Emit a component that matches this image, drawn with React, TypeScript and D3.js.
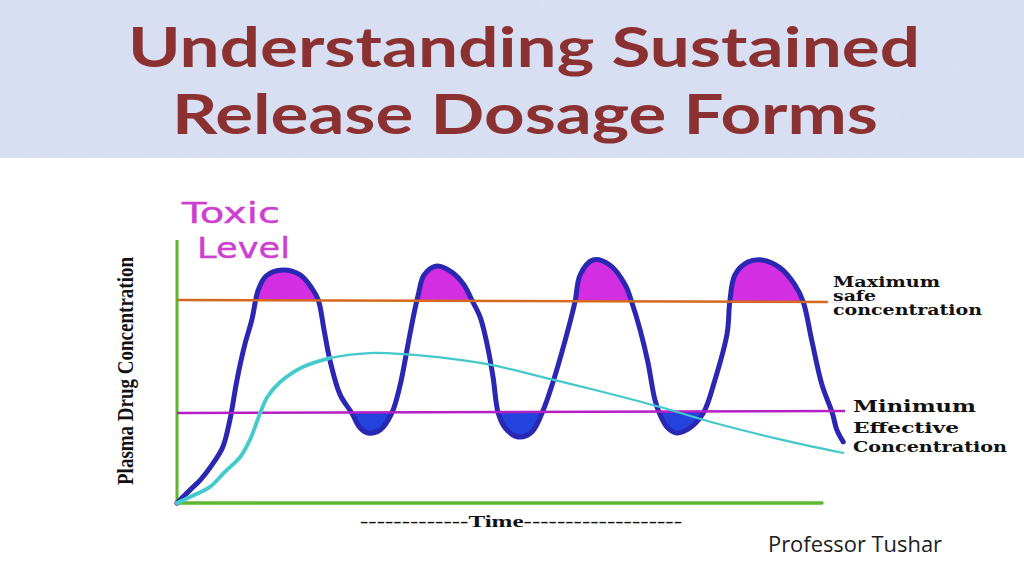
import React from "react";
import * as d3 from "d3";

// ---- data (arbitrary units: time 0..100, concentration 0..100) ----
const blueTime = [0, 2.0, 3.6, 5.4, 7.1, 8.2, 9.3, 10.5, 11.6, 12.6, 13.8, 16.4, 19.1, 20.9, 21.9, 22.8, 23.7, 25.3, 27.1, 28.4, 29.6, 31.5, 33.3, 34.6, 35.8, 36.7, 37.4, 38.3, 40.3, 42.6, 44.5, 45.7, 47.0, 48.1, 49.0, 49.8, 50.9, 52.9, 55.0, 56.6, 58.3, 60.2, 61.7, 62.5, 64.5, 67.1, 69.5, 70.5, 71.8, 73.0, 74.1, 74.9, 76.1, 77.5, 79.5, 81.6, 83.4, 85.3, 85.7, 86.5, 88.5, 90.7, 93.5, 95.8, 97.1, 98.4, 100, 101.6, 102.3, 103.3];
const blueConc = [0, 4.9, 8.7, 14.4, 21.3, 31.6, 46.8, 60.1, 69.6, 81.0, 86.3, 88.6, 86.7, 81.7, 77.2, 65.8, 54.4, 41.1, 34.2, 28.5, 26.6, 27.8, 34.2, 44.9, 60.1, 71.5, 79.1, 86.7, 90.1, 87.8, 82.9, 77.2, 70.7, 60.1, 47.9, 34.2, 28.5, 25.1, 27.0, 34.2, 46.0, 62.0, 76.4, 86.7, 92.4, 90.5, 82.9, 76.4, 65.8, 53.6, 39.2, 33.5, 28.5, 26.6, 28.5, 34.2, 46.8, 64.6, 76.4, 86.7, 91.6, 92.4, 89.4, 82.9, 76.4, 62.0, 44.9, 34.2, 27.8, 23.2];

const cyanTime = [0, 2.0, 5.1, 7.4, 9.8, 11.3, 12.9, 14.0, 16.0, 19.5, 23.7, 29.9, 35.7, 42.3, 48.5, 58.1, 65.6, 74.9, 83.1, 93.5, 103.3];
const cyanConc = [0, 2.3, 6.1, 11.8, 17.5, 24.0, 34.2, 40.3, 46.0, 51.7, 55.1, 57.0, 56.5, 54.9, 52.6, 47.0, 42.5, 36.5, 30.6, 24.2, 19.0];

const maxSafe = [77.2, 76.4]; // at time 0 and end
const maxSafeEnd = 100.9;
const minEff = [34.2, 35.0];
const minEffEnd = 103.6;

const titleLines = ["Understanding Sustained", "Release Dosage Forms"];
const yLabel = "Plasma Drug Concentration";
const xLabel = "-------------Time-------------------";
const maxLabel = ["Maximum", "safe", "concentration"];
const minLabel = ["Minimum", "Effective", "Concentration"];
const toxicLabel = ["Toxic", "Level"];
const author = "Professor Tushar";

export default function App() {
  const x = d3.scaleLinear().domain([0, 100]).range([177, 822]);
  const y = d3.scaleLinear().domain([0, 100]).range([503, 240]);

  const blue = blueTime.map((t, i) => [t, blueConc[i]] as [number, number]);
  const cyan = cyanTime.map((t, i) => [t, cyanConc[i]] as [number, number]);

  const curve = d3.curveCatmullRom.alpha(0.5);
  const line = d3.line<[number, number]>().x(d => x(d[0])).y(d => y(d[1])).curve(curve);

  const safeAt = (t: number) => maxSafe[0] + (maxSafe[1] - maxSafe[0]) * (t / maxSafeEnd);
  const effAt = (t: number) => minEff[0] + (minEff[1] - minEff[0]) * (t / minEffEnd);

  const peakArea = d3.area<[number, number]>()
    .x(d => x(d[0])).y0(d => y(safeAt(d[0]))).y1(d => y(d[1])).curve(curve);
  const troughArea = d3.area<[number, number]>()
    .x(d => x(d[0])).y0(d => y(effAt(d[0]))).y1(d => y(d[1])).curve(curve);

  const troughData = blue.filter(d => d[0] >= 20 && d[0] <= 95);

  const xa = x(0), xb = x(106);
  const clipAbove = `M${xa},0 L${xb},0 L${xb},${y(safeAt(106))} L${xa},${y(safeAt(0))} Z`;
  const clipBelow = `M${x(20)},${y(effAt(20))} L${x(95)},${y(effAt(95))} L${x(95)},576 L${x(20)},576 Z`;

  const cyanEarly = cyan.filter(d => d[0] <= 24);

  return (
    <svg width={1024} height={576} style={{ position: "absolute", left: 0, top: 0, background: "#fff" }}>
      <defs>
        <clipPath id="above"><path d={clipAbove} /></clipPath>
        <clipPath id="below"><path d={clipBelow} /></clipPath>
        <filter id="tex" x="0" y="0" width="100%" height="100%">
          <feTurbulence type="fractalNoise" baseFrequency="0.08" numOctaves="2" seed="3" result="n" />
          <feColorMatrix type="matrix" values="0 0 0 0 0.85  0 0 0 0 0.80  0 0 0 0 0.90  0 0 0 0.35 0" />
          <feComposite in2="SourceGraphic" operator="in" />
        </filter>
      </defs>
      {/* title banner */}
      <rect x={0} y={0} width={1024} height={158} fill="#d6def2" />
      <rect x={0} y={0} width={1024} height={158} fill="#fff" filter="url(#tex)" opacity={0.6} />
      <text x={524} y={67} textAnchor="middle" fontFamily="Lato, 'Open Sans', sans-serif" fontWeight={700} fontSize={55} fill="#8b3131" textLength={792} lengthAdjust="spacingAndGlyphs">{titleLines[0]}</text>
      <text x={525} y={134} textAnchor="middle" fontFamily="Lato, 'Open Sans', sans-serif" fontWeight={700} fontSize={55} fill="#8b3131" textLength={706} lengthAdjust="spacingAndGlyphs">{titleLines[1]}</text>

      {/* fills */}
      <path d={peakArea(blue) || ""} fill="#d42ee2" clipPath="url(#above)" />
      <path d={troughArea(troughData) || ""} fill="#2443dc" clipPath="url(#below)" />

      {/* axes */}
      <line x1={x(0)} x2={x(0)} y1={y(0) + 2} y2={y(100)} stroke="#5db82f" strokeWidth={3} />
      <line x1={x(0)} x2={x(100)} y1={y(0)} y2={y(0)} stroke="#5db82f" strokeWidth={3.5} strokeLinecap="round" />

      {/* blue curve */}
      <path d={line(blue) || ""} fill="none" stroke="#2a27b3" strokeWidth={5} strokeLinejoin="round" strokeLinecap="round" />

      {/* reference lines */}
      <line x1={x(0)} x2={x(maxSafeEnd)} y1={y(maxSafe[0])} y2={y(maxSafe[1])} stroke="#d4691f" strokeWidth={2.5} />
      <line x1={x(0)} x2={x(minEffEnd)} y1={y(minEff[0])} y2={y(minEff[1])} stroke="#b51fc4" strokeWidth={2.5} />

      {/* cyan curve */}
      <path d={line(cyanEarly) || ""} fill="none" stroke="#4fd0d2" strokeWidth={4} strokeLinecap="round" />
      <path d={line(cyan) || ""} fill="none" stroke="#45c8cc" strokeWidth={2.2} strokeLinecap="round" />

      {/* labels */}
      <text transform="translate(133,371) rotate(-90)" textAnchor="middle" fontFamily="'Liberation Serif', serif" fontWeight={700} fontSize={24} fill="#111" textLength={228} lengthAdjust="spacingAndGlyphs">{yLabel}</text>
      <text x={360} y={527} fontFamily="'Liberation Serif', serif" fontWeight={700} fontSize={17} fill="#111" textLength={322} lengthAdjust="spacingAndGlyphs">{xLabel}</text>

      <g fontFamily="'DejaVu Serif', serif" fontWeight={700} fill="#111">
        <text x={833} y={287} fontSize={14} textLength={107} lengthAdjust="spacingAndGlyphs">{maxLabel[0]}</text>
        <text x={833} y={301} fontSize={14} textLength={43} lengthAdjust="spacingAndGlyphs">{maxLabel[1]}</text>
        <text x={833} y={315} fontSize={14} textLength={149} lengthAdjust="spacingAndGlyphs">{maxLabel[2]}</text>
        <text x={853} y={412} fontSize={17.5} textLength={123} lengthAdjust="spacingAndGlyphs">{minLabel[0]}</text>
        <text x={853} y={433} fontSize={15} textLength={106} lengthAdjust="spacingAndGlyphs">{minLabel[1]}</text>
        <text x={853} y={452} fontSize={14} textLength={154} lengthAdjust="spacingAndGlyphs">{minLabel[2]}</text>
      </g>

      <g fontFamily="'DejaVu Sans', sans-serif" fill="#cc3fd0" stroke="#cc3fd0" strokeWidth={0.4}>
        <text x={182} y={223} fontSize={28} textLength={98} lengthAdjust="spacingAndGlyphs">{toxicLabel[0]}</text>
        <text x={197} y={258} fontSize={28} textLength={93} lengthAdjust="spacingAndGlyphs">{toxicLabel[1]}</text>
      </g>

      <text x={768} y={552} fontFamily="'Open Sans', Lato, sans-serif" fontSize={22} fill="#1c1c1c" textLength={174} lengthAdjust="spacingAndGlyphs">{author}</text>
    </svg>
  );
}
